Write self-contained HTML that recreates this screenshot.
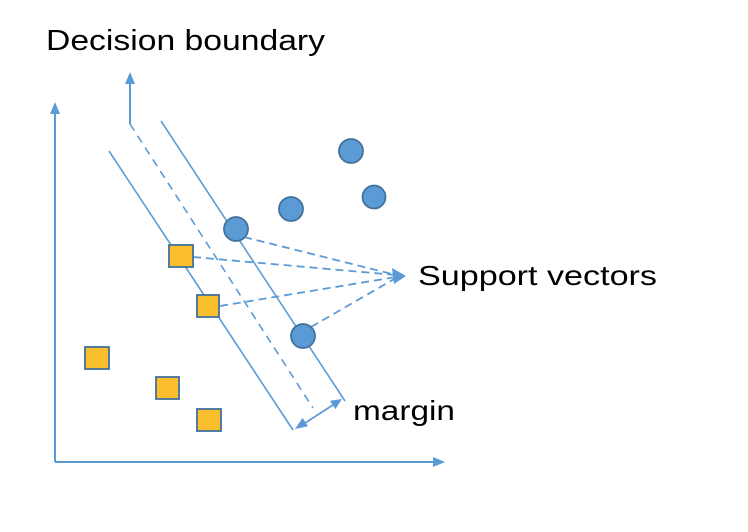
<!DOCTYPE html>
<html><head><meta charset="utf-8"><style>
html,body{margin:0;padding:0;background:#fff;}
svg{display:block;}
text{font-family:"Liberation Sans","Noto Sans CJK JP",sans-serif;fill:#000;}
</style></head><body>
<svg width="748" height="532" viewBox="0 0 748 532" xmlns="http://www.w3.org/2000/svg">
<g stroke="#5b9bd5" fill="none">
<line x1="55" y1="462" x2="55" y2="110" stroke-width="2"/>
<line x1="55" y1="462" x2="436" y2="462" stroke-width="2"/>
<line x1="130" y1="124" x2="130" y2="80" stroke-width="2"/>
<line x1="130" y1="124" x2="313" y2="408" stroke-width="1.6" stroke-dasharray="8,6"/>
<line x1="109" y1="151" x2="293" y2="430" stroke-width="1.6"/>
<line x1="161" y1="121" x2="345" y2="401" stroke-width="1.6"/>
<line x1="302" y1="425" x2="336" y2="403" stroke-width="1.8"/>
<g stroke-width="1.8" stroke-dasharray="8,5">
<line x1="244" y1="237" x2="396" y2="275"/>
<line x1="193" y1="257" x2="396" y2="275"/>
<line x1="220" y1="306" x2="396" y2="277"/>
<line x1="311" y1="327" x2="396" y2="278"/>
</g>
</g>
<g fill="#5b9bd5">
<path d="M392,268 L406,276 L394,284 z"/>
<path d="M55,102 L50,114 L60,114 z"/>
<path d="M445,462 L433,457 L433,467 z"/>
<path d="M130,72 L125,84 L135,84 z"/>
<path d="M342,399 L335.4,409.1 L330,400.7 z"/>
<path d="M295,429 L308,426.3 L302.6,417.9 z"/>
</g>
<g fill="#5b9bd5" stroke="#41719c" stroke-width="1.8">
<circle cx="351" cy="151" r="12"/>
<circle cx="291" cy="209" r="12"/>
<circle cx="374" cy="197" r="11.5"/>
<circle cx="236" cy="229" r="12"/>
<circle cx="303" cy="336" r="12"/>
</g>
<g fill="#fbbf2d" stroke="#41719c" stroke-width="1.8">
<rect x="169" y="245" width="24" height="22"/>
<rect x="197" y="295" width="22" height="22"/>
<rect x="85" y="347" width="24" height="22"/>
<rect x="156" y="377" width="23" height="22"/>
<rect x="197" y="409" width="24" height="22"/>
</g>
<text x="46" y="50" font-size="29" textLength="279" lengthAdjust="spacingAndGlyphs">Decision boundary</text>
<text x="418" y="285" font-size="28" textLength="239" lengthAdjust="spacingAndGlyphs">Support vectors</text>
<text x="353" y="420" font-size="28" textLength="102" lengthAdjust="spacingAndGlyphs">margin</text>
</svg>
</body></html>
